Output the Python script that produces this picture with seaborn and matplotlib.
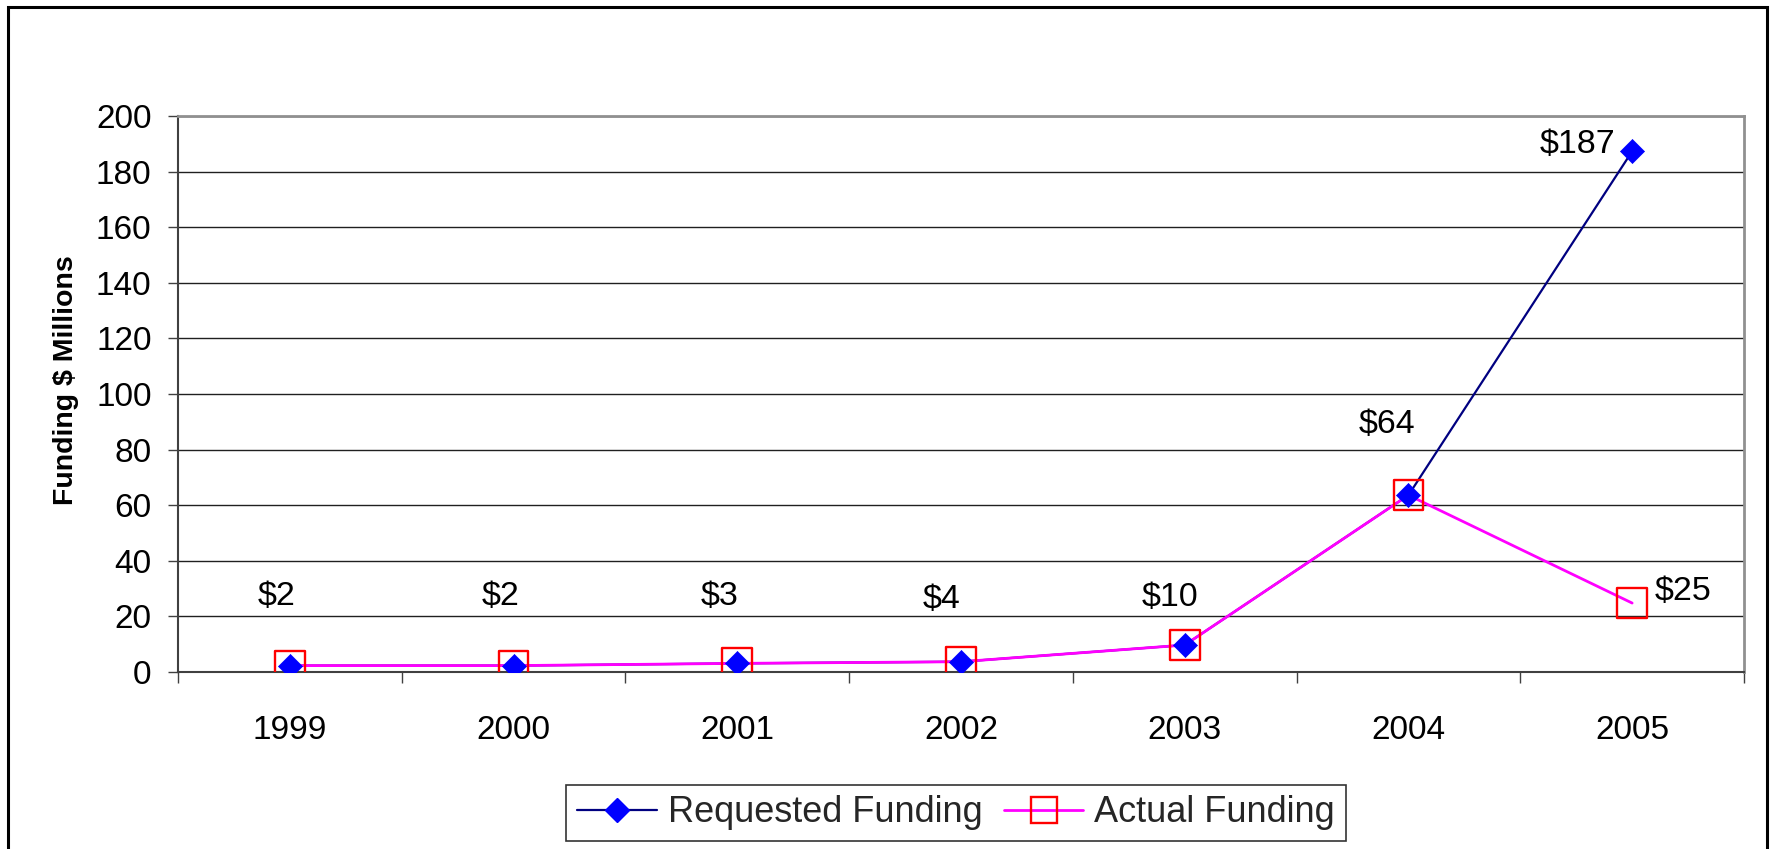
import matplotlib
matplotlib.use("Agg")
import matplotlib.pyplot as plt
from matplotlib.lines import Line2D
from matplotlib.patches import Rectangle
import seaborn as sns
import pandas as pd

years = ["1999", "2000", "2001", "2002", "2003", "2004", "2005"]
requested = [2.3, 2.3, 3.1, 3.7, 9.7, 63.6, 187.3]
actual = [2.3, 2.3, 3.1, 3.7, 9.7, 63.6, 24.8]
value_labels = ["$2", "$2", "$3", "$4", "$10", "$64", "$187"]
actual_last_label = "$25"
y_ticks = [0, 20, 40, 60, 80, 100, 120, 140, 160, 180, 200]

sns.set_theme(style="white")
plt.rcParams["font.family"] = ["Liberation Sans", "DejaVu Sans"]

df = pd.DataFrame({"x": range(len(years)), "requested": requested, "actual": actual})

fig = plt.figure(figsize=(17.74, 8.49), dpi=100)
ax = fig.add_axes([178 / 1774, 1 - 672 / 849, (1744 - 178) / 1774, (672 - 116) / 849])

sns.lineplot(data=df, x="x", y="requested", ax=ax, color="#000080", linewidth=1.6, zorder=3)
sns.lineplot(data=df, x="x", y="actual", ax=ax, color="#FF00FF", linewidth=2.0, zorder=4)
sns.scatterplot(data=df, x="x", y="requested", ax=ax, marker="D", s=150, color="#0000FF",
                edgecolor="#0000FF", linewidth=0.5, zorder=5)
sns.scatterplot(data=df, x="x", y="actual", ax=ax, marker="s", s=460, facecolor="none",
                edgecolor="#FF0000", linewidth=1.7, zorder=6)

ax.set_xlim(-0.5, len(years) - 0.5)
ax.set_ylim(0, 200)
ax.set_yticks(y_ticks)
ax.set_xticks(range(len(years)))
ax.set_xticklabels(years)
ax.set_xticks([i - 0.5 for i in range(len(years) + 1)], minor=True)
ax.tick_params(axis="x", which="major", length=0, labelsize=24, pad=31, colors="black")
ax.tick_params(axis="x", which="minor", length=8, width=1, color="#404040", direction="out", bottom=True)
ax.tick_params(axis="y", which="major", length=7, width=1, color="#404040", direction="out",
               left=True, labelsize=24, pad=12, colors="black")
ax.tick_params(axis="y", which="major", color="#404040")

ax.yaxis.grid(True, color="#202020", linewidth=1.0)
ax.xaxis.grid(False)
ax.set_axisbelow(True)
for side in ["top", "right"]:
    ax.spines[side].set_color("#909090")
    ax.spines[side].set_linewidth(2)
for side in ["left", "bottom"]:
    ax.spines[side].set_color("#404040")
    ax.spines[side].set_linewidth(1.5)

ax.set_xlabel("")
ax.set_ylabel("Funding $ Millions", fontsize=20.5, fontweight="bold", color="black")
ax.yaxis.set_label_coords(-0.063, 0.525)

# data labels
offsets = [(-13, 69), (-13, 69), (-18, 67), (-19, 62), (-15, 48), (-21, 71), (-55, 7)]
for i, (lab, (dx, dy)) in enumerate(zip(value_labels, offsets)):
    ax.annotate(lab, (i, requested[i]), xytext=(dx, dy), textcoords="offset pixels",
                ha="center", va="center", fontsize=24.5, color="black", zorder=7)
ax.annotate(actual_last_label, (len(years) - 1, actual[-1]), xytext=(51, 12),
            textcoords="offset pixels", ha="center", va="center", fontsize=24.5, color="black", zorder=7)

handles = [
    Line2D([], [], color="#000080", linewidth=1.6, marker="D", markersize=12,
           markerfacecolor="#0000FF", markeredgecolor="#0000FF"),
    Line2D([], [], color="#FF00FF", linewidth=2.0, marker="s", markersize=19,
           markerfacecolor="none", markeredgecolor="#FF0000", markeredgewidth=1.7),
]
leg = fig.legend(handles, ["Requested Funding", "Actual Funding"], loc="center",
                 bbox_to_anchor=(956 / 1774, 1 - 813 / 849), ncol=2, fontsize=26,
                 frameon=True, fancybox=False, edgecolor="black", handlelength=2.2,
                 handletextpad=0.3, columnspacing=0.6, borderpad=0.3)
leg.get_frame().set_linewidth(1.2)

fig.patches.append(Rectangle((8 / 1774, -0.02), (1767 - 8) / 1774, 1 - 7 / 849 + 0.02,
                             transform=fig.transFigure, fill=False, edgecolor="black",
                             linewidth=2.2, clip_on=False))

fig.savefig("out.png", dpi=100, facecolor="white")
